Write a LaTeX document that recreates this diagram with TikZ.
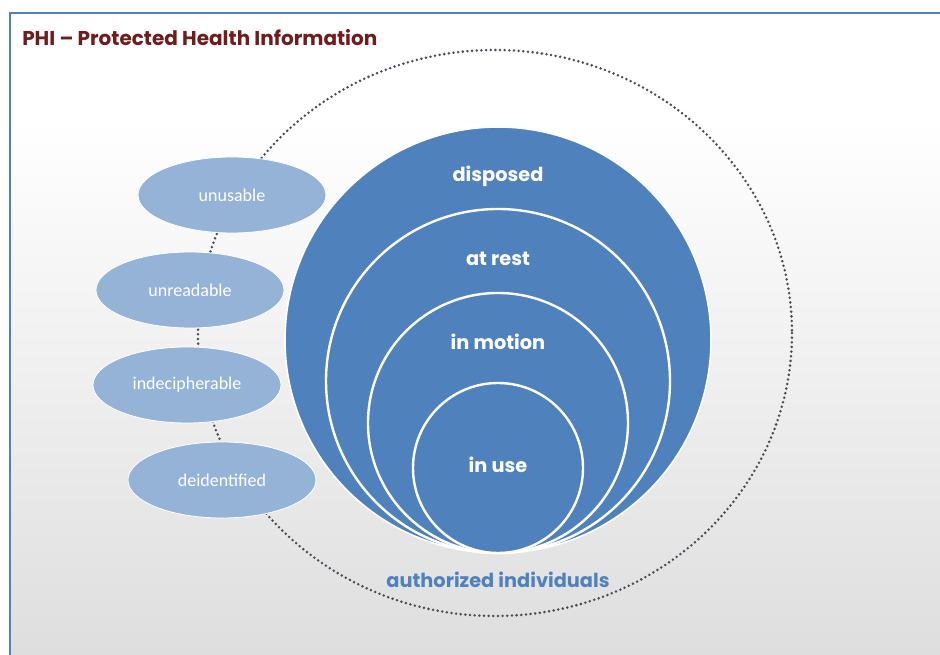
\documentclass[tikz,border=0pt]{standalone}
\usepackage{fontspec}
\setmainfont{Carlito}
\newfontfamily\geo{Poppins}
\usetikzlibrary{shapes.geometric}
\definecolor{frameblue}{RGB}{79,129,189}
\definecolor{bigblue}{RGB}{79,129,189}
\definecolor{lightblue}{RGB}{149,179,215}
\definecolor{titlered}{RGB}{112,28,28}
\definecolor{dotgray}{RGB}{70,76,88}
\definecolor{bggray}{RGB}{222,222,222}
\tikzset{
  ring/.style={circle, draw=white, line width=1.8pt, fill=bigblue, inner sep=0pt},
  state/.style={ellipse, fill=lightblue, draw=white, line width=0.6pt, inner sep=0pt,
    minimum width=141pt, minimum height=57pt, text=white, font=\fontsize{13.5}{16}\selectfont},
  ringlabel/.style={text=white, font=\geo\bfseries\fontsize{14.5}{18}\selectfont},
  dotline/.style={draw=dotgray, line width=2.1pt, line cap=round, dash pattern=on 0pt off 3.5pt}
}
\begin{document}
\begin{tikzpicture}[x=0.75pt,y=-0.75pt]
\useasboundingbox (0,0) rectangle (940,655);
% background
\fill[white] (0,0) rectangle (940,655);
\fill[white] (10,13) rectangle (940,120);
\shade[top color=white, bottom color=bggray] (10,120) rectangle (940,655);
\draw[frameblue, line width=2.2pt] (10,655) -- (10,13) -- (940,13);
% title
\node[anchor=west, inner sep=0pt, text=titlered, font=\geo\bfseries\fontsize{15}{17}\selectfont] (title) at (22,38) {PHI – Protected Health Information};
% dotted boundary
\draw[dotline] (495,333) ellipse (297 and 283);
% ellipses
\node[state] (unusable) at (232,195) {unusable};
\node[state] (unreadable) at (190,290) {unreadable};
\node[state] (indecipherable) at (187,385) {indecipherable};
\node[state] (deidentified) at (222,480) {deidentified};
% nested circles
\node[ring, line width=1.2pt, minimum size=319.5pt] (disposed) at (498,340) {};
\node[ring, minimum size=258pt] (atrest) at (498,381) {};
\node[ring, minimum size=195pt] (inmotion) at (498,423) {};
\node[ring, minimum size=127.5pt] (inuse) at (498,468) {};
\node[ringlabel] (ldisposed) at (498,176) {disposed};
\node[ringlabel] (latrest) at (498,259) {at rest};
\node[ringlabel] (linmotion) at (498,342) {in motion};
\node[ringlabel] (linuse) at (498,465) {in use};
% caption
\node[text=frameblue, font=\geo\bfseries\fontsize{14.5}{17}\selectfont] (auth) at (498,580) {authorized individuals};
\end{tikzpicture}
\end{document}
